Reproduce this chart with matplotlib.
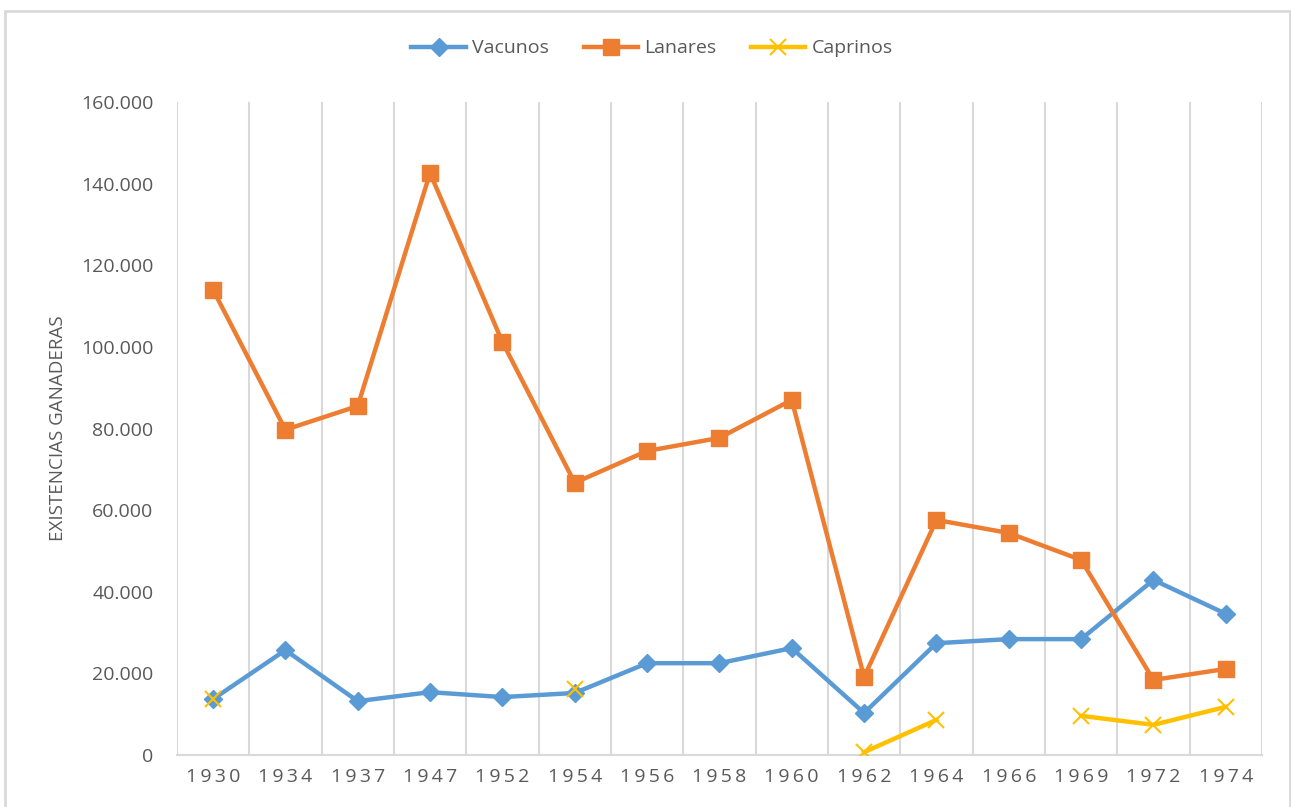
import matplotlib
matplotlib.use("Agg")
import matplotlib.pyplot as plt
from matplotlib.patches import Rectangle
from matplotlib.ticker import FuncFormatter, MultipleLocator
import numpy as np

years = ["1930", "1934", "1937", "1947", "1952", "1954", "1956", "1958",
         "1960", "1962", "1964", "1966", "1969", "1972", "1974"]
vacunos = [13700, 25700, 13200, 15400, 14200, 15200, 22500, 22500,
           26200, 10300, 27400, 28400, 28400, 42900, 34600]
lanares = [114000, 79700, 85500, 142600, 101200, 66700, 74500, 77700,
           87000, 19100, 57600, 54400, 47800, 18400, 21100]
caprinos = [13700, None, None, None, None, 16200, None, None,
            None, 700, 8600, None, 9600, 7400, 11800]

gray = "#595959"
plt.rcParams["font.family"] = ["Open Sans", "DejaVu Sans"]

fig = plt.figure(figsize=(12.91, 8.07), dpi=100)
ax = fig.add_axes([0.137, 0.0644, 0.8405, 0.8092])

# chart border
fig.patches.append(Rectangle((5 / 1291, -0.01), 1285 / 1291, 1 - 11 / 807 + 0.01,
                             transform=fig.transFigure, fill=False,
                             edgecolor="#D9D9D9", linewidth=2))

x = np.arange(len(years))
cap = np.array([np.nan if v is None else v for v in caprinos], dtype=float)

ax.plot(x, vacunos, color="#5B9BD5", linewidth=3.2, marker="D", markersize=9,
        label="Vacunos", zorder=3)
ax.plot(x, lanares, color="#ED7D31", linewidth=3.2, marker="s", markersize=12,
        label="Lanares", zorder=3)
ax.plot(x, cap, color="#FFC000", linewidth=3.2, marker="x", markersize=11,
        markeredgewidth=1.5, label="Caprinos", zorder=4)

ax.set_xlim(-0.5, len(years) - 0.5)
ax.set_ylim(0, 160000)
ax.yaxis.set_major_locator(MultipleLocator(20000))
ax.yaxis.set_major_formatter(FuncFormatter(lambda v, p: f"{int(v):,}".replace(",", ".")))

ax.set_xticks(x)
ax.set_xticklabels(["\u2009".join(y) for y in years])
ax.set_xticks(np.arange(-0.5, len(years)), minor=True)
ax.grid(True, which="minor", axis="x", color="#D9D9D9", linewidth=1.5)
ax.tick_params(which="both", length=0)
ax.tick_params(axis="y", labelsize=14, colors=gray, pad=17)
ax.tick_params(axis="x", labelsize=14, colors=gray, pad=9)

for s in ["top", "left", "right"]:
    ax.spines[s].set_visible(False)
ax.spines["bottom"].set_color("#D9D9D9")
ax.spines["bottom"].set_linewidth(1.5)

ax.set_ylabel("EXISTENCIAS GANADERAS", fontsize=13.5, color=gray, labelpad=10)

leg = fig.legend(loc="center", bbox_to_anchor=(0.505, 0.94), ncol=3,
                 frameon=False, fontsize=14, handlelength=2.8,
                 handletextpad=0.3, columnspacing=1.8)
for t in leg.get_texts():
    t.set_color(gray)

fig.savefig("out.png", dpi=100)
